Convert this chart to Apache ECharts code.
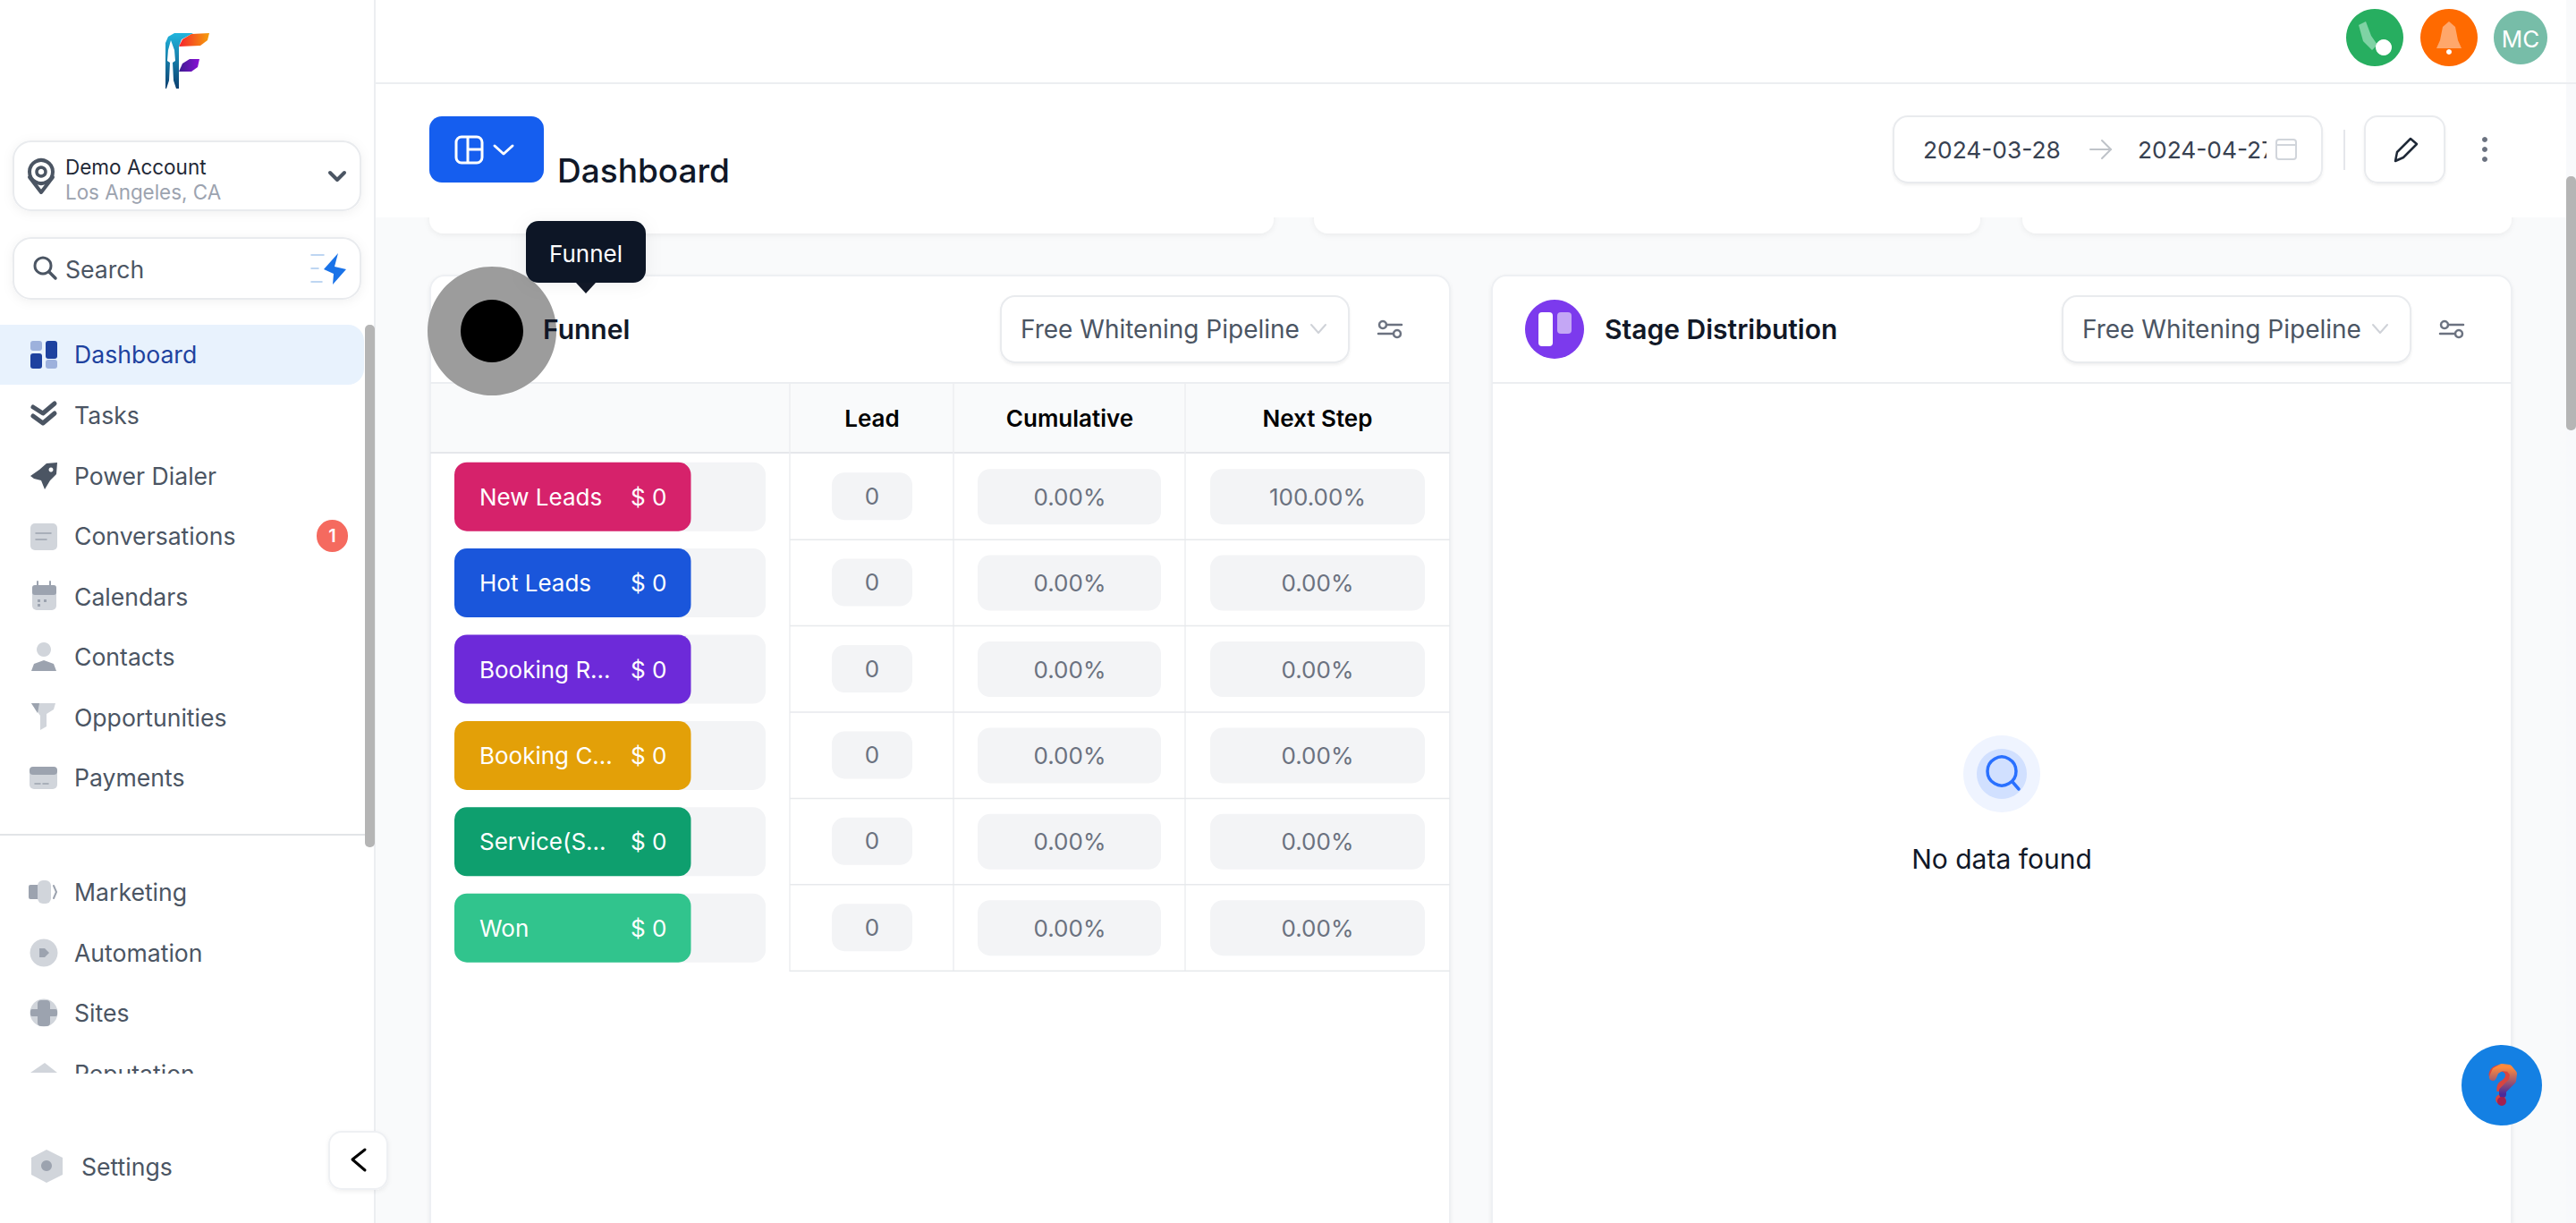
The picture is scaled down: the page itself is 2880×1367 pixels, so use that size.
<!DOCTYPE html>
<html>
<head>
<meta charset="utf-8">
<title>Dashboard</title>
<script src="https://cdn.jsdelivr.net/npm/echarts@6/dist/echarts.min.js"></script>
<style>
    html, body { margin: 0; padding: 0; background: #f9fafb; overflow: hidden; }
    #main { width: 2880px; height: 1367px; }
</style>
</head>
<body>
<div id="main"></div>
<script>
var stageNames = ['New Leads', 'Hot Leads', 'Booking R...', 'Booking C...', 'Service(S...', 'Won'];
var stageColors = ['#d6226b', '#1a56db', '#6d2ad9', '#e3a008', '#0e9f6e', '#31c48d'];
var stageBarLength = [76, 76, 76, 76, 76, 76];
var stageRevenue = [0, 0, 0, 0, 0, 0];
var leadCounts = ['0', '0', '0', '0', '0', '0'];
var cumulativeRates = ['0.00%', '0.00%', '0.00%', '0.00%', '0.00%', '0.00%'];
var nextStepRates = ['100.00%', '0.00%', '0.00%', '0.00%', '0.00%', '0.00%'];
var tableHeads = ['Lead', 'Cumulative', 'Next Step'];
var navTop = ['Tasks', 'Power Dialer', 'Conversations', 'Calendars', 'Contacts', 'Opportunities', 'Payments'];
var navBottom = ['Marketing', 'Automation', 'Sites', 'Reputation'];

var items = [];

function rect(x, y, w, h, r, fill, stroke, shadow) {
    var style = {fill: fill};
    if (stroke) {
        style.stroke = stroke;
        style.lineWidth = 2;
    }
    if (shadow) {
        style.shadowBlur = shadow;
        style.shadowColor = 'rgba(16,24,40,0.06)';
        style.shadowOffsetY = 2;
    }
    items.push({type: 'rect', shape: {x: x, y: y, width: w, height: h, r: r}, style: style});
}

function text(s, x, y, font, fill, align) {
    items.push({
        type: 'text',
        style: {text: s, x: x, y: y, font: font, fill: fill, textAlign: align || 'left', textVerticalAlign: 'middle'}
    });
}

function circle(cx, cy, r, fill, stroke, lw) {
    var style = {fill: fill};
    if (stroke) {
        style.stroke = stroke;
        style.lineWidth = lw || 2;
    }
    items.push({type: 'circle', shape: {cx: cx, cy: cy, r: r}, style: style});
}

function poly(points, fill) {
    items.push({type: 'polygon', shape: {points: points}, style: {fill: fill}});
}

function line(points, stroke, lw) {
    items.push({
        type: 'polyline',
        shape: {points: points},
        style: {fill: null, stroke: stroke, lineWidth: lw || 2, lineCap: 'round', lineJoin: 'round'}
    });
}

function vGrad(a, b) {
    return {type: 'linear', x: 0, y: 0, x2: 0, y2: 1, colorStops: [{offset: 0, color: a}, {offset: 1, color: b}]};
}

function hGrad(a, b) {
    return {type: 'linear', x: 0, y: 0, x2: 1, y2: 0, colorStops: [{offset: 0, color: a}, {offset: 1, color: b}]};
}

function sliders(x, y) {
    line([[x + 9, y + 5], [x + 26, y + 5]], '#6b7280', 2.5);
    line([[x, y + 15], [x + 17, y + 15]], '#6b7280', 2.5);
    circle(x + 5, y + 5, 4, '#fff', '#6b7280', 2.5);
    circle(x + 21, y + 15, 4, '#fff', '#6b7280', 2.5);
}

function selectBox(x) {
    rect(x, 331, 389, 74, 16, '#fff', '#e9ebee', 3);
    text('Free Whitening Pipeline', x + 22, 368, '28px Inter', '#4b5563');
    line([[x + 347, 363], [x + 355, 372], [x + 363, 363]], '#cfd2d8', 2);
    sliders(x + 422, 358);
}

// main background parts
function drawFrame() {
    rect(2869, 93, 11, 1274, 0, '#f8f9fb');
    rect(2869, 197, 11, 284, 5, '#b5b5b5');

    // cards cut by the sticky header
    rect(480, 200, 944, 61, 16, '#fff', null, 6);
    rect(1469, 200, 745, 61, 16, '#fff', null, 6);
    rect(2261, 200, 547, 61, 16, '#fff', null, 6);

    // header
    rect(419, 0, 2450, 243, 0, '#fff');
    items.push({type: 'line', shape: {x1: 419, y1: 93, x2: 2880, y2: 93}, style: {stroke: '#eceef1', lineWidth: 2}});
    rect(480, 130, 128, 74, 14, '#155eef');
    rect(510, 153, 29, 29, 6, 'none', '#fff');
    items[items.length - 1].style.lineWidth = 3;
    items.push({type: 'line', shape: {x1: 523, y1: 153, x2: 523, y2: 182}, style: {stroke: '#fff', lineWidth: 3}});
    items.push({type: 'line', shape: {x1: 523, y1: 167, x2: 539, y2: 167}, style: {stroke: '#fff', lineWidth: 3}});
    line([[553, 163], [563, 172], [573, 163]], '#fff', 3);
    text('Dashboard', 623, 190, '500 37px Inter', '#101828');

    rect(2117, 130, 479, 74, 16, '#fff', '#e9ebee', 3);
    text('2024-03-28', 2150, 167, '26.3px Inter', '#374151');
    line([[2337, 167], [2360, 167]], '#bfc3c9', 2);
    line([[2350, 157], [2360, 167], [2350, 177]], '#bfc3c9', 2);
    text('2024-04-27', 2390, 167, '26.3px Inter', '#374151');
    rect(2534, 150, 10, 34, 0, '#fff');
    rect(2545, 156, 22, 22, 3, 'none', '#d1d5db');
    items.push({type: 'line', shape: {x1: 2545, y1: 162, x2: 2567, y2: 162}, style: {stroke: '#d1d5db', lineWidth: 2}});
    items.push({type: 'line', shape: {x1: 2621, y1: 145, x2: 2621, y2: 190}, style: {stroke: '#e5e7eb', lineWidth: 2}});
    rect(2644, 130, 89, 74, 14, '#fff', '#e9ebee', 3);
    line([[2678, 180], [2680, 170], [2695, 155], [2702, 161], [2687, 176], [2678, 180]], '#1f2937', 2.5);
    circle(2778, 156, 3, '#6b7280');
    circle(2778, 167, 3, '#6b7280');
    circle(2778, 178, 3, '#6b7280');

    // top right buttons
    circle(2655, 42, 32, '#27ae60');
    poly([[2637, 28], [2645, 24], [2651, 40], [2658, 50], [2652, 56], [2642, 46]], '#7fd3a4');
    circle(2665, 53, 9, '#fff');
    circle(2738, 42, 32, '#ff6a00');
    poly([[2738, 24], [2745, 30], [2748, 45], [2752, 54], [2724, 54], [2728, 45], [2731, 30]], '#ffa76b');
    circle(2738, 58, 3, '#fff');
    circle(2818, 42, 30, '#77bda8');
    text('MC', 2818, 43, '26px Inter', '#fff', 'center');
}

function drawCards() {
    // funnel card
    rect(481, 308, 1140, 1100, 16, '#fff', '#eef0f3', 4);
    rect(482, 428, 1138, 78, 0, '#f9fafb');
    items.push({type: 'line', shape: {x1: 481, y1: 428, x2: 1621, y2: 428}, style: {stroke: '#eceef1', lineWidth: 2}});
    items.push({type: 'line', shape: {x1: 481, y1: 506, x2: 1621, y2: 506}, style: {stroke: '#e5e7eb', lineWidth: 2}});

    var colX = [883, 1066, 1325];
    var i;
    for (i = 0; i < colX.length; i++) {
        items.push({type: 'line', shape: {x1: colX[i], y1: 428, x2: colX[i], y2: 1086}, style: {stroke: '#eceef1', lineWidth: 1.5}});
    }
    var centers = [975, 1196, 1473];
    for (i = 0; i < tableHeads.length; i++) {
        text(tableHeads[i], centers[i], 467, '600 26px Inter', '#000', 'center');
    }
    for (i = 0; i < stageNames.length; i++) {
        var cy = 555.2 + i * 96.4;
        items.push({type: 'line', shape: {x1: 883, y1: cy + 48, x2: 1621, y2: cy + 48}, style: {stroke: '#e7e9ec', lineWidth: 1.5}});
        rect(930, cy - 27, 90, 53, 14, '#f3f4f6');
        rect(1093, cy - 31, 205, 62, 14, '#f3f4f6');
        rect(1353, cy - 31, 240, 62, 14, '#f3f4f6');
        text(leadCounts[i], 975, cy - 1, '26px Inter', '#6b7280', 'center');
        text(cumulativeRates[i], 1196, cy, '26px Inter', '#6b7280', 'center');
        text(nextStepRates[i], 1473, cy, '26px Inter', '#6b7280', 'center');
    }
    selectBox(1119);

    // highlight over the funnel icon
    circle(550, 370, 72, '#9c9c9c');
    circle(550, 370, 35, '#000');
    text('Funnel', 607, 368, '600 30px Inter', '#111827');
    rect(588, 247, 134, 69, 14, '#111827', null, 20);
    poly([[644, 316], [666, 316], [655, 328]], '#111827');
    text('Funnel', 655, 283, '26px Inter', '#fff', 'center');

    // stage distribution card
    rect(1668, 308, 1140, 1100, 16, '#fff', '#eef0f3', 4);
    items.push({type: 'line', shape: {x1: 1668, y1: 428, x2: 2808, y2: 428}, style: {stroke: '#eceef1', lineWidth: 2}});
    circle(1738, 368, 33, '#7c3aed');
    rect(1720, 349, 16, 38, 4, '#fff');
    rect(1741, 349, 16, 24, 4, '#c4a7f5');
    text('Stage Distribution', 1794, 368, '600 30px Inter', '#111827');
    selectBox(2306);

    circle(2238, 865, 43, '#eff4ff');
    circle(2238, 865, 28, '#d1e0ff');
    circle(2238, 862, 16, 'none', '#2970ff', 3.5);
    line([[2250, 874], [2257, 882]], '#2970ff', 3.5);
    text('No data found', 2238, 960, '30px Inter', '#101828', 'center');

    // help button, the text sits under the coloured hook
    circle(2797, 1213, 45, '#1480e3');
    text('?', 2797, 1212, '800 58px Inter', '#d8453f', 'center');
    line([[2787, 1204], [2790, 1197], [2797, 1193], [2805, 1194], [2810, 1200], [2809, 1208], [2803, 1214], [2798, 1219], [2798, 1223]],
        vGrad('#ff8a3c', '#4b2a9a'), 8);
    circle(2797, 1231, 5, '#a3204f');
}

function drawSidebar() {
    rect(0, 0, 419, 1367, 0, '#fff');
    items.push({type: 'line', shape: {x1: 419, y1: 0, x2: 419, y2: 1367}, style: {stroke: '#eceef1', lineWidth: 2}});

    // logo
    poly([[185, 48], [188, 41], [195, 37], [216, 37], [203, 44], [200, 52], [200, 99], [185, 99]], vGrad('#21b5dd', '#0c3f6f'));
    poly([[200, 52], [204, 44], [214, 38], [234, 37], [232, 45], [224, 51]], hGrad('#f5222d', '#f59e0b'));
    poly([[200, 80], [204, 71], [212, 66], [223, 66], [221, 75], [214, 80]], hGrad('#3b1d8f', '#8a0fd6'));
    poly([[191, 45], [195, 56], [196, 68], [193, 70], [194, 90], [197, 99], [186, 99], [189, 90], [190, 70], [187, 68], [188, 56]], '#fff');

    // account box
    rect(15, 158, 388, 77, 20, '#fff', '#e9ebee', 12);
    circle(46, 192, 13, 'none', '#4b5563', 4);
    circle(46, 192, 5, 'none', '#4b5563', 3.5);
    line([[33, 198], [46, 215], [59, 198]], '#4b5563', 4);
    text('Demo Account', 73, 186, '22.5px Inter', '#1f2937');
    text('Los Angeles, CA', 73, 214, '22.4px Inter', '#9ca3af');
    line([[369, 193], [377, 201], [385, 193]], '#4b5563', 4);

    // search box
    rect(15, 266, 388, 68, 20, '#fff', '#e9ebee', 12);
    circle(48, 297, 9, 'none', '#4b5563', 3);
    line([[55, 304], [62, 311]], '#4b5563', 3.5);
    text('Search', 73, 301, '26.6px Inter', '#4b5563');
    poly([[378, 283], [374, 298], [387, 301], [372, 318], [373, 306], [362, 301]], '#1a73e8');
    line([[348, 285], [362, 285]], '#a9c9ee', 1.5);
    line([[348, 300], [356, 300]], '#a9c9ee', 1.5);
    line([[348, 315], [360, 315]], '#a9c9ee', 1.5);

    // nav
    rect(-20, 363, 427, 67, 18, '#e8f2fd');
    rect(34, 381, 13, 11, 3, '#9db1dc');
    rect(51, 381, 13, 20, 3, '#1e429f');
    rect(34, 395, 13, 17, 3, '#1e429f');
    rect(51, 402, 13, 10, 3, '#9db1dc');
    text('Dashboard', 83, 396, '26.6px Inter', '#1e429f');

    var i;
    for (i = 0; i < navTop.length; i++) {
        text(navTop[i], 83, 464 + i * 67.5, '26.6px Inter', '#4b5563');
    }
    items.push({type: 'line', shape: {x1: 0, y1: 933, x2: 408, y2: 933}, style: {stroke: '#d9dbdf', lineWidth: 1.5}});
    for (i = 0; i < navBottom.length; i++) {
        text(navBottom[i], 83, 997 + i * 67.5, '26.6px Inter', '#4b5563');
    }

    // nav icons
    line([[37, 455], [48, 462], [61, 451]], '#4b5563', 5);
    line([[37, 465], [48, 473], [61, 462]], '#4b5563', 5);
    poly([[34, 532], [44, 525], [52, 518], [64, 517], [63, 530], [56, 537], [50, 547], [46, 537], [38, 535]], '#4b5563');
    circle(57, 525, 2.5, '#fff');
    rect(34, 585, 30, 30, 5, '#d1d5db');
    line([[40, 596], [57, 596]], '#9ca3af', 1.5);
    line([[40, 603], [52, 603]], '#9ca3af', 1.5);
    rect(36, 654, 27, 28, 5, '#d1d5db');
    rect(36, 654, 27, 11, 3, '#9ca3af');
    line([[42, 650], [42, 655]], '#9ca3af', 2);
    line([[56, 650], [56, 655]], '#9ca3af', 2);
    rect(42, 670, 3, 3, 0, '#9ca3af');
    rect(49, 670, 3, 3, 0, '#9ca3af');
    rect(42, 675, 3, 3, 0, '#9ca3af');
    circle(49, 726, 8, '#d1d5db');
    poly([[35, 750], [38, 742], [49, 738], [60, 742], [63, 750]], '#9ca3af');
    poly([[35, 786], [62, 786], [60, 793], [52, 798], [52, 812], [45, 816], [45, 800]], '#d1d5db');
    poly([[35, 786], [44, 786], [42, 797]], '#9ca3af');
    rect(33, 857, 31, 25, 5, '#d1d5db');
    rect(33, 857, 31, 9, 4, '#9ca3af');
    line([[39, 876], [45, 876]], '#9ca3af', 1.5);
    line([[48, 876], [54, 876]], '#9ca3af', 1.5);
    rect(32, 989, 12, 16, 2, '#9ca3af');
    rect(42, 984, 15, 26, 6, '#d1d5db');
    line([[60, 990], [63, 997], [60, 1004]], '#9ca3af', 2);
    circle(49, 1065, 15.5, '#d1d5db');
    poly([[44, 1060], [50, 1060], [55, 1065], [50, 1070], [44, 1070]], '#9ca3af');
    circle(49, 1132, 15.5, '#d1d5db');
    rect(42, 1118, 14, 29, 4, '#9ca3af');
    rect(34, 1128, 30, 8, 2, '#9ca3af');
    poly([[34, 1199], [50, 1188], [64, 1199]], '#d1d5db');
    rect(0, 1200, 408, 60, 0, '#fff');

    // settings
    poly([[52, 1285], [70, 1294], [70, 1313], [52, 1322], [35, 1313], [35, 1294]], '#d1d5db');
    circle(52, 1303, 6, '#9ca3af');
    text('Settings', 91, 1304, '26.6px Inter', '#4b5563');

    // badge, scrollbar, collapse button
    rect(354, 581, 35, 36, 18, '#f56a5f');
    text('1', 371.5, 599, '600 20px Inter', '#fff', 'center');
    rect(408, 363, 11, 584, 5, '#b5b5b5');
    rect(368, 1265, 65, 64, 14, '#fff', '#eef0f3', 5);
    line([[408, 1285], [394, 1296], [408, 1308]], '#000', 3);
}

drawFrame();
drawCards();
drawSidebar();

var chart = echarts.init(document.getElementById('main'), null, {renderer: 'svg'});

chart.setOption({
    animation: false,
    backgroundColor: 'transparent',
    textStyle: {fontFamily: 'Inter'},
    graphic: {elements: items},
    grid: {left: 508, top: 507, width: 348, height: 578.4},
    xAxis: {type: 'value', min: 0, max: 100, show: false},
    yAxis: {type: 'category', data: stageNames, inverse: true, show: false},
    series: [
        {
            type: 'bar',
            barWidth: 77,
            showBackground: true,
            backgroundStyle: {color: '#f3f4f6', borderRadius: 14},
            data: stageBarLength.map(function (v, i) {
                return {value: v, itemStyle: {color: stageColors[i], borderRadius: 14}};
            }),
            label: {
                show: true,
                position: 'insideLeft',
                distance: 28,
                color: '#fff',
                fontSize: 26,
                fontFamily: 'Inter',
                formatter: function (p) { return stageNames[p.dataIndex]; }
            }
        },
        {
            type: 'bar',
            barWidth: 77,
            barGap: '-100%',
            itemStyle: {color: 'transparent'},
            data: stageBarLength,
            label: {
                show: true,
                position: 'insideRight',
                distance: 27,
                color: '#fff',
                fontSize: 26,
                fontFamily: 'Inter',
                formatter: function (p) { return '$ ' + stageRevenue[p.dataIndex]; }
            }
        }
    ]
});
</script>
</body>
</html>
